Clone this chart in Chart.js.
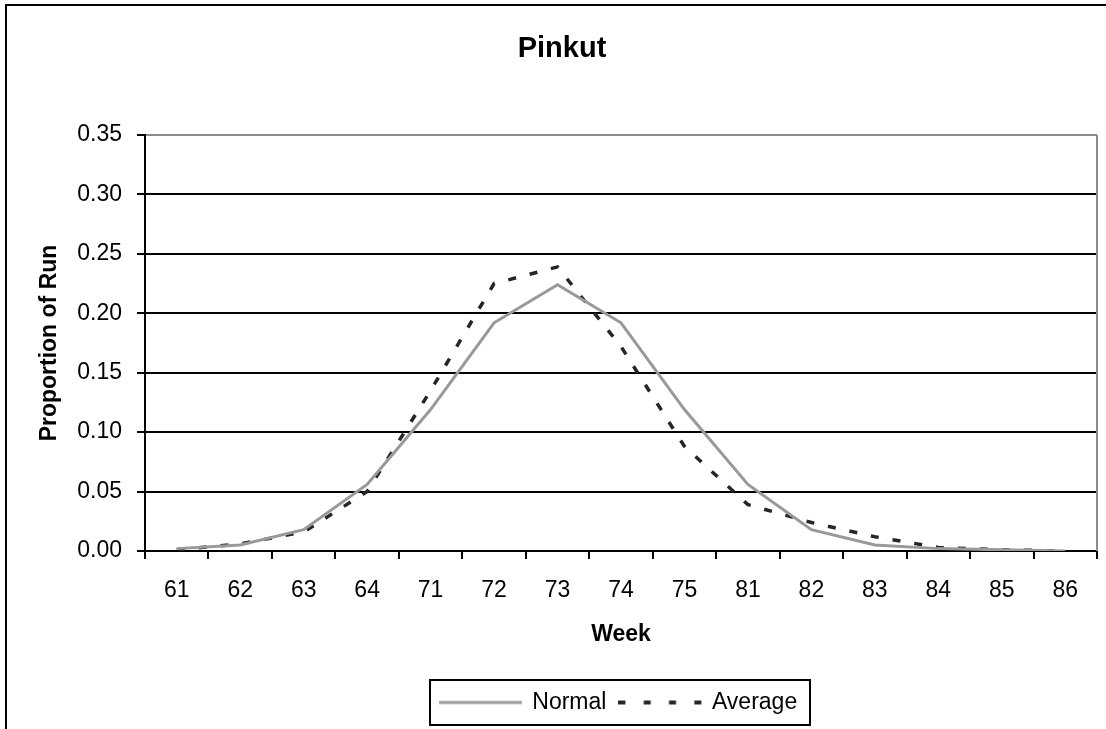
<!DOCTYPE html>
<html>
<head>
<meta charset="utf-8">
<title>Pinkut</title>
<script src="https://cdn.jsdelivr.net/npm/chart.js@4.4.1/dist/chart.umd.min.js"></script>
<style>
  html, body { margin: 0; padding: 0; background: #fff; }
  #wrap { width: 1106px; height: 729px; position: relative; }
</style>
</head>
<body>
<div id="wrap"><canvas id="chart"></canvas></div>
<script>
// Weekly run timing at Pinkut: proportion of the run passing each week
const weeks = ['61', '62', '63', '64', '71', '72', '73', '74', '75', '81', '82', '83', '84', '85', '86'];
const normalRun = [0.002, 0.005, 0.018, 0.056, 0.119, 0.192, 0.224, 0.192, 0.119, 0.056, 0.018, 0.005, 0.002, 0.001, 0.000];
const averageRun = [0.001, 0.006, 0.016, 0.050, 0.135, 0.225, 0.239, 0.172, 0.088, 0.039, 0.024, 0.012, 0.003, 0.001, 0.000];
const yTicks = [0, 0.05, 0.10, 0.15, 0.20, 0.25, 0.30, 0.35];

const FONT = "'Liberation Sans', Arial, Helvetica, sans-serif";
Chart.defaults.font.family = FONT;
Chart.defaults.color = '#000';

const NORMAL_COLOR = '#999999';
const AVERAGE_COLOR = '#262626';

// Small canvases used as legend line samples (solid and dashed)
function lineSample(color, width, dash) {
  const c = document.createElement('canvas');
  c.width = 88;
  c.height = 8;
  const g = c.getContext('2d');
  g.strokeStyle = color;
  g.lineWidth = width;
  g.setLineDash(dash);
  g.beginPath();
  g.moveTo(0, 4);
  g.lineTo(83, 4);
  g.stroke();
  return c;
}
const legendSamples = {
  Normal: lineSample(NORMAL_COLOR, 3, []),
  Average: lineSample(AVERAGE_COLOR, 4, [7, 18.3])
};

// White page with a black frame around the whole chart
const framePlugin = {
  id: 'frame',
  beforeDraw(chart) {
    const ctx = chart.ctx;
    ctx.save();
    ctx.fillStyle = '#fff';
    ctx.fillRect(0, 0, chart.width, chart.height);
    ctx.strokeStyle = '#000';
    ctx.lineWidth = 2;
    ctx.strokeRect(6, 5, chart.width + 20, chart.height + 20);
    ctx.restore();
  }
};

// Grey right-hand edge of the plot area
const plotEdgePlugin = {
  id: 'plotEdge',
  beforeDatasetsDraw(chart) {
    const {ctx, chartArea} = chart;
    ctx.save();
    ctx.strokeStyle = '#8c8c8c';
    ctx.lineWidth = 2;
    ctx.beginPath();
    ctx.moveTo(chartArea.right, chartArea.top);
    ctx.lineTo(chartArea.right, chartArea.bottom);
    ctx.stroke();
    ctx.restore();
  }
};

// Box drawn around the legend entries
const legendBoxPlugin = {
  id: 'legendBox',
  afterDraw(chart) {
    const boxes = chart.legend && chart.legend.legendHitBoxes;
    if (!boxes || !boxes.length) return;
    const first = boxes[0], last = boxes[boxes.length - 1];
    const cy = first.top + first.height / 2;
    const left = first.left - 15;
    const right = last.left + last.width + 13;
    const top = Math.round(cy - 23);
    const bottom = Math.round(cy + 22);
    const ctx = chart.ctx;
    ctx.save();
    ctx.strokeStyle = '#000';
    ctx.lineWidth = 2;
    ctx.strokeRect(Math.round(left), top, Math.round(right - left), bottom - top);
    ctx.restore();
  }
};

new Chart(document.getElementById('chart'), {
  type: 'line',
  data: {
    labels: weeks,
    datasets: [
      {
        label: 'Normal',
        data: normalRun,
        borderColor: NORMAL_COLOR,
        backgroundColor: NORMAL_COLOR,
        borderWidth: 3,
        pointRadius: 0,
        tension: 0
      },
      {
        label: 'Average',
        data: averageRun,
        borderColor: AVERAGE_COLOR,
        backgroundColor: AVERAGE_COLOR,
        borderWidth: 3.5,
        borderDash: [8, 14],
        borderCapStyle: 'butt',
        pointRadius: 0,
        tension: 0
      }
    ]
  },
  options: {
    responsive: true,
    maintainAspectRatio: false,
    animation: false,
    layout: { padding: { left: 27, right: 9, top: 0, bottom: 5 } },
    plugins: {
      title: {
        display: true,
        text: 'Pinkut',
        color: '#000',
        font: { size: 29, weight: 'bold', family: FONT },
        padding: { top: 32, bottom: 68.2 }
      },
      legend: {
        position: 'bottom',
        fullSize: false,
        labels: {
          usePointStyle: true,
          pointStyleWidth: 76,
          padding: 18,
          color: '#000',
          font: { size: 23, family: FONT },
          generateLabels(chart) {
            const items = Chart.defaults.plugins.legend.labels.generateLabels(chart);
            items.forEach(it => { it.pointStyle = legendSamples[it.text]; });
            return items;
          }
        }
      },
      tooltip: { enabled: false }
    },
    scales: {
      x: {
        offset: true,
        grid: {
          offset: true,
          drawOnChartArea: false,
          drawTicks: true,
          tickLength: 8,
          color: '#000',
          lineWidth: 2
        },
        border: { display: true, color: '#000', width: 2 },
        ticks: {
          padding: 18,
          maxRotation: 0,
          autoSkip: false,
          color: '#000',
          font: { size: 23, family: FONT }
        },
        title: {
          display: true,
          text: 'Week',
          color: '#000',
          font: { size: 23, weight: 'bold', family: FONT },
          padding: { top: 0, bottom: 25 }
        },
        afterFit(scale) { scale.height = 122; }
      },
      y: {
        min: 0,
        max: 0.35,
        afterBuildTicks(scale) { scale.ticks = yTicks.map(v => ({ value: v })); },
        grid: {
          drawTicks: true,
          tickLength: 8,
          lineWidth: 2,
          color: (c) => (c.tick && Math.abs(c.tick.value - 0.35) < 1e-9) ? '#8c8c8c' : '#000',
          tickColor: '#000'
        },
        border: { display: true, color: '#000', width: 2 },
        ticks: {
          padding: 15,
          color: '#000',
          font: { size: 23, family: FONT },
          callback: (v) => Number(v).toFixed(2)
        },
        title: {
          display: true,
          text: 'Proportion of Run',
          color: '#000',
          font: { size: 23, weight: 'bold', family: FONT },
          padding: { top: 9, bottom: 0 }
        },
        afterFit(scale) { scale.width = 118; }
      }
    }
  },
  plugins: [framePlugin, plotEdgePlugin, legendBoxPlugin]
});
</script>
</body>
</html>
